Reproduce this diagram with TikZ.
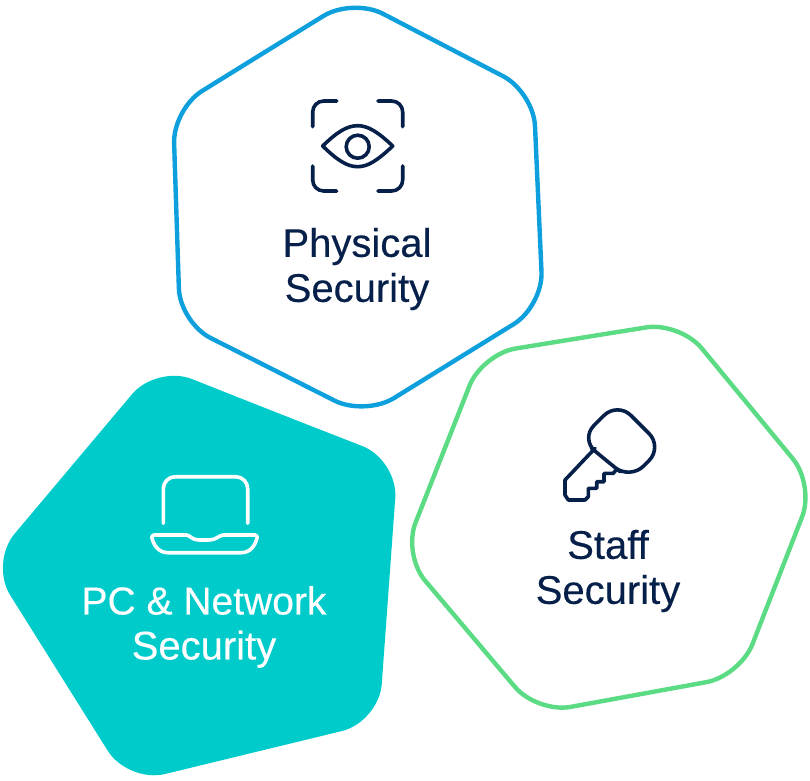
\documentclass[tikz,border=0pt]{standalone}
\usepackage{fontspec}
\setmainfont[FakeBold=0.35]{Liberation Sans}
\definecolor{navy}{HTML}{06204A}
\definecolor{hexblue}{HTML}{0E9FDD}
\definecolor{hexgreen}{HTML}{5BDC84}
\definecolor{hexteal}{HTML}{00CBCB}
\tikzset{
  hexline/.style={line width=4.4pt,rounded corners=34pt,line join=round},
  iconline/.style={line width=3.6pt,line cap=round,line join=round,draw=navy},
  whiteline/.style={line width=3.6pt,line cap=round,line join=round,draw=white},
  label/.style={font=\fontsize{40}{45}\selectfont,align=center,inner sep=0pt,text=navy},
}
\begin{document}
\begin{tikzpicture}[x=1pt,y=-1pt]
\useasboundingbox (0,0) rectangle (810,780);
% Physical hexagon
\draw[hexline,draw=hexblue] (265,52) -- (352.6,-2) -- (533.5,92) -- (543,306) -- (365,416) -- (180,322.5) -- (173,109) -- cycle;
% Staff hexagon
\draw[hexline,draw=hexgreen] (580,338) -- (680,322) -- (814.5,485) -- (740,676) -- (537,713) -- (403,554.5) -- (482,354) -- cycle;
% Network pentagon
\fill[hexteal,rounded corners=38pt] (270,410) -- (398,460) -- (379,722) -- (128,783) -- (-10,563) -- (156.6,365) -- cycle;
% Eye icon
\begin{scope}[iconline]
\draw[rounded corners=11pt] (312.7,126.7) -- (312.7,101) -- (336.7,101);
\draw[rounded corners=11pt] (378,101) -- (402.7,101) -- (402.7,126.7);
\draw[rounded corners=11pt] (402.7,166) -- (402.7,191) -- (378,191);
\draw[rounded corners=11pt] (336.7,191) -- (312.7,191) -- (312.7,166);
\draw (322.7,146) .. controls (337,132) and (347,125.7) .. (357.7,125.7) .. controls (368,125.7) and (378,132) .. (392.7,146) .. controls (378,160) and (368,166.7) .. (357.7,166.7) .. controls (347,166.7) and (337,160) .. (322.7,146) -- cycle;
\draw (357.7,146.7) circle[radius=11.5];
\end{scope}
% Key icon
\begin{scope}[iconline]
\draw[rounded corners=19pt] (605.5,460) -- (580.5,438.8) -- (617.5,402) -- (662.5,447) -- (630.2,479.5) -- cycle;
\draw (595,448.3) -- (565,480) -- (565,495) -- (568.3,500) -- (585,500) -- (588.3,496.7) -- (588.3,488.3) -- (596.7,488.3) -- (596.7,481.7) -- (604,481.7) -- (604,473.3) -- (613.3,473.3) -- (616,470);
\end{scope}
% Laptop icon
\begin{scope}[whiteline]
\draw[rounded corners=12pt] (163.3,523.3) -- (163.3,476.7) -- (247.7,476.7) -- (247.7,523.3);
\draw (154,535) -- (186.7,535) .. controls (191,536) and (192,540) .. (199,540) -- (209,540) .. controls (216,540) and (218,536) .. (223,535) -- (255,535) .. controls (257,535) and (257.5,537) .. (257,538) .. controls (255,546) and (250,552.7) .. (241,552.7) -- (168,552.7) .. controls (159,552.7) and (154,546) .. (152,538) .. controls (151.5,537) and (152,535) .. (154,535) -- cycle;
\end{scope}
% Labels
\node[label] (physical) at (357,269) {Physical\\Security};
\node[label] (staff) at (608,571) {Staff\\Security};
\node[label,text=white] (network) at (204,627) {{\fontsize{39}{45}\selectfont PC \& Network}\\Security};
\end{tikzpicture}
\end{document}
